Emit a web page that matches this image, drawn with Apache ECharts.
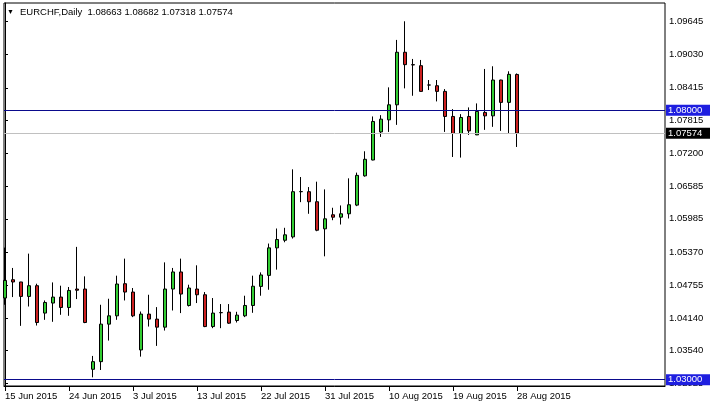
<!DOCTYPE html>
<html><head><meta charset="utf-8">
<script src="https://cdn.jsdelivr.net/npm/echarts@6/dist/echarts.min.js"></script>
<style>html,body{margin:0;padding:0;background:#fff}#c{width:710px;height:407px}</style>
</head><body><div id="c"></div><script>
// Daily bars (incl. Sunday bars), 15 Jun 2015 .. 28 Aug 2015
const barDates = ['15 Jun','16 Jun','17 Jun','18 Jun','19 Jun','21 Jun','22 Jun','23 Jun','24 Jun','25 Jun','26 Jun','28 Jun','29 Jun','30 Jun','1 Jul','2 Jul','3 Jul','5 Jul','6 Jul','7 Jul','8 Jul','9 Jul','10 Jul','12 Jul','13 Jul','14 Jul','15 Jul','16 Jul','17 Jul','19 Jul','20 Jul','21 Jul','22 Jul','23 Jul','24 Jul','26 Jul','27 Jul','28 Jul','29 Jul','30 Jul','31 Jul','2 Aug','3 Aug','4 Aug','5 Aug','6 Aug','7 Aug','9 Aug','10 Aug','11 Aug','12 Aug','13 Aug','14 Aug','16 Aug','17 Aug','18 Aug','19 Aug','20 Aug','21 Aug','23 Aug','24 Aug','25 Aug','26 Aug','27 Aug','28 Aug'];
const openVals = [1.04515,1.04855,1.04813,1.04545,1.04744,1.04236,1.04422,1.04533,1.04340,1.04682,1.04682,1.03193,1.03335,1.04031,1.04185,1.04781,1.04626,1.03552,1.04217,1.04124,1.03975,1.04682,1.04999,1.04377,1.04682,1.04576,1.03986,1.04245,1.04254,1.04098,1.04185,1.04377,1.04731,1.04935,1.05446,1.05587,1.05650,1.06488,1.06488,1.06302,1.05799,1.06060,1.06015,1.06078,1.06239,1.06782,1.07076,1.07597,1.07821,1.08100,1.09075,1.08845,1.08826,1.08467,1.08454,1.08349,1.07884,1.07568,1.07884,1.07542,1.07959,1.07895,1.08560,1.08145,1.08663];
const closeVals = [1.04842,1.04813,1.04545,1.04744,1.04061,1.04433,1.04533,1.04340,1.04656,1.04660,1.04061,1.03335,1.04031,1.04185,1.04775,1.04626,1.04185,1.04217,1.04124,1.03975,1.04682,1.04999,1.04589,1.04701,1.04576,1.03986,1.04236,1.04243,1.04049,1.04198,1.04377,1.04734,1.04943,1.05446,1.05600,1.05688,1.06488,1.06490,1.06302,1.05773,1.05985,1.06015,1.06078,1.06246,1.06791,1.07089,1.07791,1.07834,1.08100,1.09075,1.08845,1.08840,1.08349,1.08467,1.08349,1.07884,1.07568,1.07865,1.07616,1.07977,1.07895,1.08560,1.08145,1.08665,1.07574];
const highVals = [1.05451,1.05073,1.04815,1.05339,1.04781,1.04470,1.04805,1.04744,1.04720,1.05464,1.04917,1.03441,1.04390,1.04502,1.04930,1.05246,1.04701,1.04265,1.04576,1.04347,1.05177,1.05073,1.05246,1.04762,1.05122,1.04626,1.04515,1.04403,1.04403,1.04260,1.04558,1.04930,1.04991,1.05526,1.05805,1.05818,1.06903,1.06760,1.06574,1.06674,1.06531,1.06190,1.06233,1.06736,1.06842,1.07238,1.07884,1.07908,1.08424,1.09304,1.09650,1.08951,1.08932,1.08560,1.08560,1.08392,1.08020,1.07927,1.08052,1.08126,1.08765,1.08815,1.08565,1.08722,1.08682];
const lowVals = [1.04390,1.04533,1.03999,1.04358,1.04005,1.04111,1.04074,1.04204,1.04185,1.04496,1.04049,1.03044,1.03180,1.03726,1.04111,1.04470,1.04161,1.03428,1.03986,1.03627,1.03912,1.04284,1.04236,1.04358,1.04422,1.03975,1.03956,1.03956,1.04036,1.04061,1.04161,1.04241,1.04558,1.04669,1.05042,1.05550,1.05619,1.06294,1.06078,1.05755,1.05289,1.05959,1.05879,1.05991,1.06220,1.06767,1.07070,1.07504,1.07597,1.07728,1.08405,1.08268,1.08345,1.08374,1.08163,1.07597,1.07132,1.07121,1.07542,1.07538,1.07635,1.07691,1.07616,1.07568,1.07318];

// axis ticks
const xTickIndex = [0,8,16,24,32,40,48,56,64];
const xTickLabels = ['15 Jun 2015','24 Jun 2015','3 Jul 2015','13 Jul 2015','22 Jul 2015','31 Jul 2015','10 Aug 2015','19 Aug 2015','28 Aug 2015'];
const yTickValues = [1.09645,1.09030,1.08415,1.07815,1.07200,1.06585,1.05985,1.05370,1.04755,1.04140,1.03540,1.02925];
const levelLines = [1.08000, 1.03000];
const symbolName = 'EURCHF,Daily';

const last = openVals.length - 1;
const bidPrice = closeVals[last];
const header = symbolName + '  ' + [openVals[last], highVals[last], lowVals[last], closeVals[last]].map(v => v.toFixed(5)).join(' ');

const candleData = barDates.map((d, i) => [i, openVals[i], closeVals[i], lowVals[i], highVals[i]]);

const FONT = '"Liberation Sans", Arial, sans-serif';
const FS = 9.5;

function levelSeries(name, value, lineColor, boxColor, z) {
  return {
    name: name, type: 'line', data: [], silent: true, z: z,
    markLine: {
      silent: true, symbol: ['none', 'none'], animation: false, precision: 5,
      lineStyle: {color: lineColor, width: 1, type: 'solid'},
      label: {
        show: true, position: 'end', distance: 1,
        fontSize: FS, fontFamily: FONT, color: '#fff',
        backgroundColor: boxColor, padding: [1, 8, 0, 2],
        formatter: () => value.toFixed(5)
      },
      data: [{yAxis: value}]
    }
  };
}

const series = [{
  type: 'candlestick',
  data: candleData,
  barWidth: 4,
  clip: true,
  z: 3,
  itemStyle: {
    color: '#32cd32', color0: '#cc2020',
    borderColor: '#000', borderColor0: '#000', borderWidth: 1
  }
}];
series.push(levelSeries('bid', bidPrice, '#c0c0c0', '#000', 2));
levelLines.forEach((v, k) => series.push(levelSeries('level' + k, v, '#0a0a8c', '#1e1ee0', 4)));

const chart = echarts.init(document.getElementById('c'), null, {renderer: 'canvas'});
chart.setOption({
  backgroundColor: '#fff',
  animation: false,
  title: [
    {left: 7, top: 9, padding: 0, text: '▼', textStyle: {fontSize: 7, color: '#000', fontWeight: 'normal', fontFamily: FONT}},
    {left: 20, top: 7, padding: 0, text: header, textStyle: {fontSize: FS, color: '#000', fontWeight: 'normal', fontFamily: FONT}}
  ],
  grid: {left: 4, right: 45, top: 3, bottom: 21, show: true, borderColor: '#000', borderWidth: 1, backgroundColor: '#fff'},
  xAxis: {
    type: 'value', min: -0.125, max: 82.5,
    splitLine: {show: false},
    axisLine: {show: true, lineStyle: {color: '#000', width: 1}},
    axisTick: {show: true, length: 5, lineStyle: {color: '#000'}, customValues: xTickIndex},
    axisLabel: {
      customValues: xTickIndex, align: 'left', margin: 5,
      fontSize: FS, fontFamily: FONT, color: '#000',
      formatter: v => xTickLabels[xTickIndex.indexOf(Math.round(v))] || ''
    }
  },
  yAxis: {
    type: 'value', position: 'right', scale: true,
    min: 1.028831, max: 1.099889,
    splitLine: {show: false},
    axisLine: {show: true, lineStyle: {color: '#000', width: 1}},
    axisTick: {show: true, length: 3, lineStyle: {color: '#000'}, customValues: yTickValues},
    axisLabel: {
      customValues: yTickValues, margin: 4,
      fontSize: FS, fontFamily: FONT, color: '#000',
      formatter: v => v.toFixed(5)
    }
  },
  series: series
});
</script></body></html>
